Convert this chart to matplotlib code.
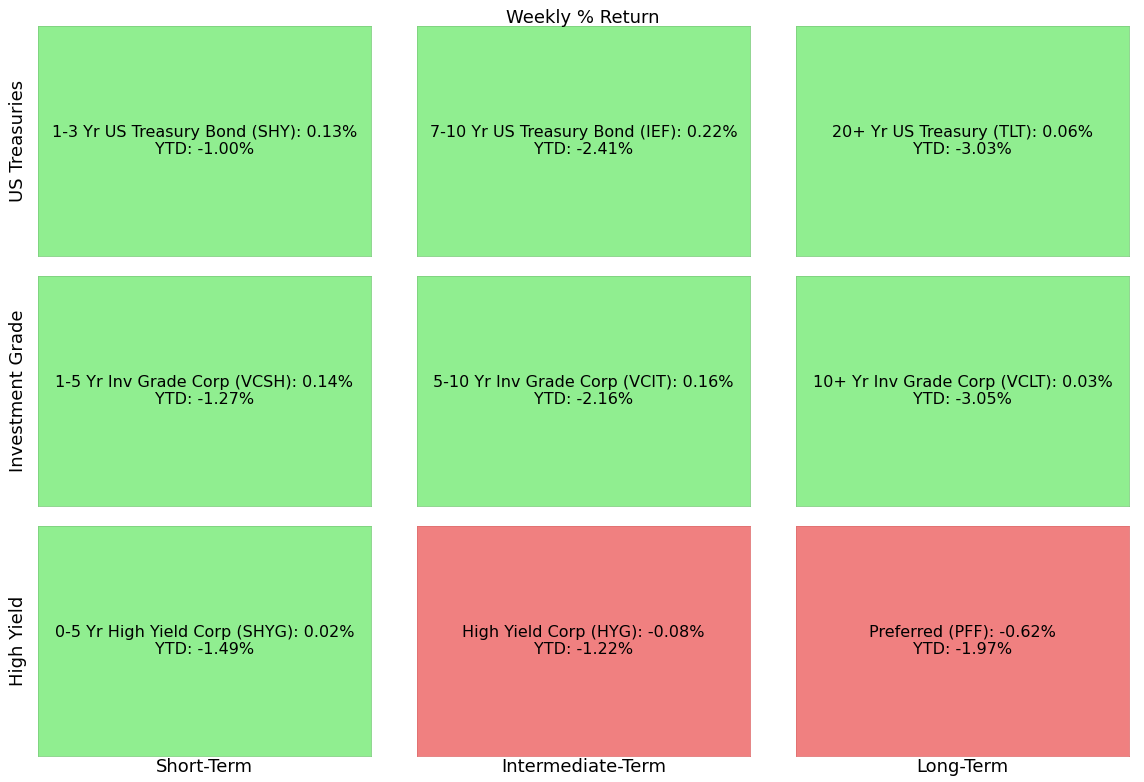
import numpy as np
import matplotlib.pyplot as plt

plt.rcParams['font.family'] = ['DejaVu Sans']

rows = ["US Treasuries", "Investment Grade", "High Yield"]
cols = ["Short-Term", "Intermediate-Term", "Long-Term"]
names = [
    ["1-3 Yr US Treasury Bond (SHY)", "7-10 Yr US Treasury Bond (IEF)", "20+ Yr US Treasury (TLT)"],
    ["1-5 Yr Inv Grade Corp (VCSH)", "5-10 Yr Inv Grade Corp (VCIT)", "10+ Yr Inv Grade Corp (VCLT)"],
    ["0-5 Yr High Yield Corp (SHYG)", "High Yield Corp (HYG)", "Preferred (PFF)"],
]
weekly = np.array([
    [0.13, 0.22, 0.06],
    [0.14, 0.16, 0.03],
    [0.02, -0.08, -0.62],
])
ytd = np.array([
    [-1.00, -2.41, -3.03],
    [-1.27, -2.16, -3.05],
    [-1.49, -1.22, -1.97],
])

fig, axes = plt.subplots(3, 3, figsize=(11.44, 7.82), dpi=100)
fig.subplots_adjust(left=0.033, right=0.987, top=0.967, bottom=0.033, wspace=0.138, hspace=0.087)

for i in range(3):
    for j in range(3):
        ax = axes[i, j]
        color = "lightgreen" if weekly[i, j] >= 0 else "lightcoral"
        ax.set_facecolor(color)
        ax.text(0.5, 0.5, f"{names[i][j]}: {weekly[i, j]:.2f}%\nYTD: {ytd[i, j]:.2f}%",
                ha="center", va="center", fontsize=11.5, transform=ax.transAxes)
        ax.set_xticks([])
        ax.set_yticks([])
        for s in ax.spines.values():
            s.set_color("#7fcf7f" if weekly[i, j] >= 0 else "#e07070")
            s.set_linewidth(0.6)
        if j == 0:
            ax.set_ylabel(rows[i], fontsize=13, labelpad=8)
        if i == 2:
            ax.set_xlabel(cols[j], fontsize=13, labelpad=1)

fig.suptitle("Weekly % Return", fontsize=13, x=0.509, y=0.977, va="center")
plt.savefig("out.png")
